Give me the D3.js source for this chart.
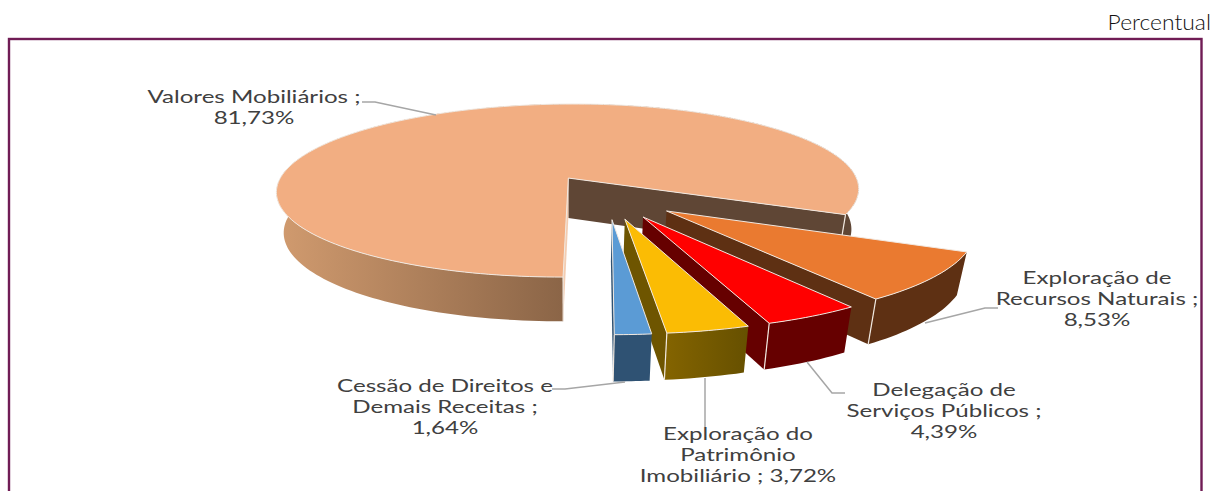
<!DOCTYPE html>
<html>
<head>
<meta charset="utf-8">
<script src="https://cdn.jsdelivr.net/npm/d3@7"></script>
<style>
  html, body { margin: 0; padding: 0; background: #fff; overflow: hidden; }
  text { font-family: Lato, sans-serif; fill: #404040; }
</style>
</head>
<body>
<svg id="chart" width="1220" height="491"></svg>
<script>
  const categories = [
    "Exploração de Recursos Naturais",
    "Delegação de Serviços Públicos",
    "Exploração do Patrimônio Imobiliário",
    "Cessão de Direitos e Demais Receitas",
    "Valores Mobiliários"
  ];
  const values = [8.53, 4.39, 3.72, 1.64, 81.73];
  const topColors = ["#ea7a30", "#ff0000", "#fbbc04", "#5b9bd5", "#f2ae82"];
  const sideColors = ["#5e3013", "#660000", "#6e5500", "#2f5273", "#5f4635"];

  // text of each label, broken the way the reference breaks it
  const labelLines = [
    ["Exploração de", "Recursos Naturais ;", "8,53%"],
    ["Delegação de", "Serviços Públicos ;", "4,39%"],
    ["Exploração do", "Patrimônio", "Imobiliário ; 3,72%"],
    ["Cessão de Direitos e", "Demais Receitas ;", "1,64%"],
    ["Valores Mobiliários ;", "81,73%"]
  ];

  // label placement, same order as categories
  const labelPos = [[1097, 278], [944, 390], [738, 434], [445, 386], [254, 97]];
  const leaders = [
    [[998, 308], [985, 308], [925, 323]],
    [[845, 393], [832, 393], [807, 362]],
    [[705, 427], [705, 378]],
    [[552, 389], [565, 389], [625, 382]],
    [[362, 102], [375, 102], [436, 115]]
  ];

  const svg = d3.select("#chart");
  const toRad = Math.PI / 180;

  // perspective camera for the tilted pie
  const view = { x: 568.5, y: 178, rx: 288, ry: 84.7, persp: 0.1445, skew: 5.5, depth: 40, shrink: 0.975 };
  const explode = 0.25;
  const pieCenter = [0.136, 0.21];

  function project(gx, gy, low) {
    const s = 1 / (1 - view.persp * gy);
    const k = low ? view.shrink : 1;
    return [
      view.x + (view.rx * gx - view.skew * gy) * s * k,
      view.y + view.ry * gy * s * k + (low ? view.depth * s : 0)
    ];
  }

  const pie = d3.pie().value(d => d).sort(null)
    .startAngle(114 * toRad).endAngle((114 + 360) * toRad);
  const slices = pie(values);

  const line = d3.line();
  const closed = pts => line(pts) + "Z";

  // gradient for the outer wall of the large slice
  const defs = svg.append("defs");
  const wallGrad = defs.append("linearGradient").attr("id", "wall-main")
    .attr("gradientUnits", "userSpaceOnUse")
    .attr("x1", 277).attr("x2", 859).attr("y1", 0).attr("y2", 0);
  [[0, "#d19b6f"], [0.49, "#8b6547"], [0.5, "#5f4635"], [1, "#5f4635"]].forEach(s => {
    wallGrad.append("stop").attr("offset", s[0]).attr("stop-color", s[1]);
  });
  const goldGrad = defs.append("linearGradient").attr("id", "wall-gold");
  [[0, "#846400"], [1, "#665000"]].forEach(s => {
    goldGrad.append("stop").attr("offset", s[0]).attr("stop-color", s[1]);
  });

  function sliceShape(d) {
    const mid = (d.startAngle + d.endAngle) / 2;
    const ax = pieCenter[0] + explode * Math.sin(mid);
    const ay = pieCenter[1] - explode * Math.cos(mid);
    const at = a => [ax + Math.sin(a), ay - Math.cos(a)];
    const n = Math.max(8, Math.ceil((d.endAngle - d.startAngle) * 40));
    const angles = d3.range(n + 1).map(i => d.startAngle + (d.endAngle - d.startAngle) * i / n);
    const top = angles.map(a => project(...at(a), false));
    const low = angles.map(a => project(...at(a), true));
    return {
      apexTop: project(ax, ay, false),
      apexLow: project(ax, ay, true),
      top, low
    };
  }

  const order = [4, 0, 1, 2, 3];
  const wallEdge = "#f1e8e0";
  const mainIndex = 4;

  order.forEach(i => {
    const d = slices[i];
    const sh = sliceShape(d);
    const g = svg.append("g").attr("class", "slice");
    const side = sideColors[i];
    const n = sh.top.length - 1;
    const isMain = i === mainIndex;

    // radial faces: the large slice shows both, the small ones only the clockwise one
    if (isMain) {
      // dark cut face at the far end of the sweep
      g.append("path")
        .attr("d", closed([sh.apexTop, sh.top[n], sh.low[n], sh.apexLow]))
        .attr("fill", side);
      g.append("path")
        .attr("d", closed([sh.apexTop, sh.top[0], sh.low[0], sh.apexLow]))
        .attr("fill", "#f3cdb2");
    } else {
      g.append("path")
        .attr("d", closed([sh.apexTop, sh.top[n], sh.low[n], sh.apexLow]))
        .attr("fill", side);
    }

    // outer wall
    g.append("path")
      .attr("d", closed(sh.top.concat(sh.low.slice().reverse())))
      .attr("fill", isMain ? "url(#wall-main)" : i === 2 ? "url(#wall-gold)" : side);

    // corner edges between the radial face and the wall
    const corners = isMain ? [0, n] : [n];
    corners.forEach(c => {
      g.append("path")
        .attr("d", line([sh.top[c], sh.low[c]]))
        .attr("stroke", wallEdge).attr("stroke-width", 1.2).attr("fill", "none");
    });

    // top surface
    g.append("path")
      .attr("d", closed([sh.apexTop].concat(sh.top)))
      .attr("fill", topColors[i])
      .attr("stroke", wallEdge).attr("stroke-width", 1).attr("stroke-linejoin", "round");
  });

  // leader lines
  svg.append("g").selectAll("path").data(leaders).join("path")
    .attr("d", d => line(d))
    .attr("fill", "none").attr("stroke", "#a6a6a6").attr("stroke-width", 1.5);

  // labels, the reference image is stretched sideways
  const labels = svg.append("g").selectAll("text").data(categories).join("text")
    .attr("text-anchor", "middle")
    .attr("font-size", 18)
    .attr("transform", (d, i) => `translate(${labelPos[i][0]},${labelPos[i][1]}) scale(1.34,1)`);
  labels.each(function (d, i) {
    d3.select(this).selectAll("tspan").data(labelLines[i]).join("tspan")
      .attr("x", 0)
      .attr("y", (t, j) => j * 20.8 + 6)
      .text(t => t);
  });

  // frame, runs off the bottom of the page
  svg.append("rect")
    .attr("x", 9).attr("y", 39).attr("width", 1192.5).attr("height", 480)
    .attr("fill", "none").attr("stroke", "#701c55").attr("stroke-width", 2.4);

  svg.append("text")
    .attr("transform", "translate(1211,30) scale(1.09,1)")
    .attr("text-anchor", "end")
    .attr("font-size", 21)
    .style("font-weight", 300)
    .style("fill", "#111")
    .text("Percentual");
</script>
</body>
</html>
